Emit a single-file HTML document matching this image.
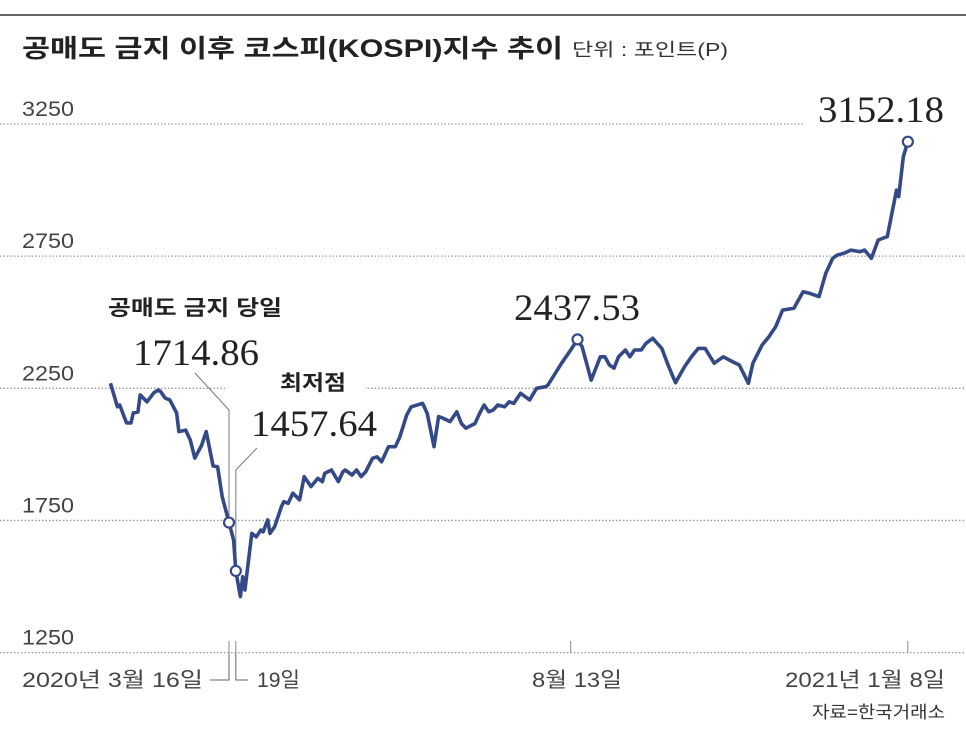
<!DOCTYPE html>
<html><head><meta charset="utf-8"><style>
html,body{margin:0;padding:0;background:#fff;}
svg{display:block;}
.ax{font-family:"Liberation Sans Narrow","Liberation Sans","Noto Sans CJK KR",sans-serif;fill:#444;font-size:21px;}
.num{font-family:"Liberation Serif",serif;fill:#222;font-size:37px;}
.bold{font-family:"Liberation Sans","Noto Sans CJK KR",sans-serif;font-weight:bold;fill:#222;}
</style></head><body>
<svg id="chart" width="966" height="729" viewBox="0 0 966 729">
<line x1="0" y1="15" x2="966" y2="15" stroke="#666" stroke-width="2"/>
<text class="bold" x="22" y="57" font-size="25" textLength="541" lengthAdjust="spacingAndGlyphs">공매도 금지 이후 코스피(KOSPI)지수 추이</text>
<text x="572" y="56" font-size="18" fill="#333" font-family="Liberation Sans,Noto Sans CJK KR,sans-serif" textLength="156" lengthAdjust="spacingAndGlyphs">단위 : 포인트(P)</text>
<g id="grid"></g>
<g id="ylabels"></g>
<g id="ann"></g>
<path id="line" fill="none" stroke="#344a86" stroke-width="3.6" stroke-linejoin="round"/>
<g id="marks"></g>
<g id="xlabels"></g>
<text x="945" y="718" text-anchor="end" font-size="17" fill="#333" font-family="Liberation Sans Narrow,Liberation Sans,Noto Sans CJK KR,sans-serif" textLength="133" lengthAdjust="spacingAndGlyphs">자료=한국거래소</text>
</svg>
<script>
const yTicks = [3250, 2750, 2250, 1750, 1250];
const days = [-52,-49,-48,-45,-43,-42,-40,-39,-36,-33,-31,-30,-28,-26,-23,-22,-19,-17,-15,-12,-10,-7,-5,-3,0,2,3,5,6,7,10,12,14,15,17,18,20,23,24,26,28,31,33,36,39,41,42,45,48,50,51,54,56,58,60,63,65,67,70,73,75,78,80,85,87,90,92,94,97,100,102,104,108,110,112,114,116,118,121,123,125,128,132,135,139,140,146,150,153,155,159,163,165,167,169,171,174,176,178,181,183,186,188,190,193,196,200,203,206,209,213,217,221,224,228,230,234,237,240,243,248,252,255,259,262,265,267,270,273,277,279,282,285,289,293,294,296,298];
const values = [2269,2180,2187,2119,2119,2157,2160,2225,2199,2233,2244,2237,2213,2206,2157,2086,2092,2054,1986,2035,2086,1956,1953,1840,1742,1676,1559,1462,1537,1487,1701,1688,1714,1707,1752,1701,1726,1802,1821,1815,1853,1828,1916,1878,1909,1897,1928,1941,1897,1934,1941,1922,1941,1916,1934,1985,1991,1972,2029,2029,2067,2149,2180,2193,2155,2029,2143,2137,2124,2161,2117,2099,2117,2155,2187,2161,2168,2187,2180,2199,2193,2231,2206,2250,2256,2262,2345,2395,2435,2407,2281,2369,2369,2338,2326,2369,2395,2369,2395,2395,2420,2439,2420,2401,2332,2271,2332,2369,2401,2401,2345,2369,2351,2338,2269,2345,2414,2445,2483,2546,2553,2615,2609,2597,2685,2742,2754,2761,2773,2767,2773,2742,2811,2824,3000,2975,3126,3183];
const markDays = [0, 3, 153, 298];
const markLabels = ["1714.86", "1457.64", "2437.53", "3152.18"];
const xTickDays = [0, 3, 150, 298];
const xTickLabels = ["2020년 3월 16일", "19일", "8월 13일", "2021년 1월 8일"];

const NS = "http://www.w3.org/2000/svg";
const y = v => 124 + (3250 - v) * 0.2643;
const x = d => 229 + d * 2.278;
function mk(tag, attrs, parent, text){
  const e = document.createElementNS(NS, tag);
  for (const k in attrs) e.setAttribute(k, attrs[k]);
  if (text !== undefined) e.textContent = text;
  parent.appendChild(e);
  return e;
}
const grid = document.getElementById('grid');
const yl = document.getElementById('ylabels');
yTicks.forEach((t,i) => {
  const gl = mk('line', {x1:0, x2:966, y1:y(t), y2:y(t), stroke:'#999', 'stroke-width':1.3, 'stroke-dasharray':'1.5 2'}, grid);
  
  
  const tl = mk('text', {x:22, y:y(t) - 8, class:'ax', textLength:52, lengthAdjust:'spacingAndGlyphs'}, yl, String(t));
  
  
});
// white masks behind labels
[[805,110,161,20],[225,375,140,20]].forEach(r => {
  const m = mk('rect', {x:r[0], y:r[1], width:r[2], height:r[3], fill:'#fff'}, grid);
  
  
});
// x ticks
const xl = document.getElementById('xlabels');
xTickDays.forEach((d,i) => {
  const tk = mk('line', {x1:x(d), x2:x(d), y1:641, y2:653, stroke:'#888', 'stroke-width':1}, xl);
  
  
});
const xPos = [[22,181,'start'],[257,43,'start'],[532,90,'start'],[785,160,'start']];
xTickLabels.forEach((s,i) => {
  const t = mk('text', {x:xPos[i][0], y:687, class:'ax', 'font-size':23, textLength:xPos[i][1], lengthAdjust:'spacingAndGlyphs'}, xl, s);
  
  
});
// brackets for 16 / 19
const b1 = mk('path', {d:`M210 680 H${x(0)} V653`, fill:'none', stroke:'#666', 'stroke-width':1}, xl);


const b2 = mk('path', {d:`M${x(3)} 653 V680 H248`, fill:'none', stroke:'#666', 'stroke-width':1}, xl);


// line
let d = '';
days.forEach((dd,i) => { d += (i ? 'L' : 'M') + x(dd).toFixed(1) + ' ' + y(values[i]).toFixed(1); });
document.getElementById('line').setAttribute('d', d);
// annotations
const ann = document.getElementById('ann');
const l1 = mk('path', {d:`M195 373 L${x(0)} 410 V${y(values[days.indexOf(0)])}`, fill:'none', stroke:'#777', 'stroke-width':1}, ann);


const l2 = mk('path', {d:`M257 448 L${x(3)} 470 V${y(values[days.indexOf(3)])}`, fill:'none', stroke:'#777', 'stroke-width':1}, ann);


const h1 = mk('text', {x:108, y:315, class:'bold', 'font-size':21, textLength:174, lengthAdjust:'spacingAndGlyphs'}, ann, '공매도 금지 당일');


const h2 = mk('text', {x:280, y:390, class:'bold', 'font-size':21, textLength:66, lengthAdjust:'spacingAndGlyphs'}, ann, '최저점');


const labPos = [[133,365],[251,436],[514,320],[818,122]];
const marks = document.getElementById('marks');
markDays.forEach((md,i) => {
  const v = values[days.indexOf(md)];
  const c = mk('circle', {cx:x(md), cy:y(v), r:5, fill:'#fff', stroke:'#344a86', 'stroke-width':2.2}, marks);
  
  
  const t = mk('text', {x:labPos[i][0], y:labPos[i][1], class:'num', textLength:126, lengthAdjust:'spacingAndGlyphs'}, ann, markLabels[i]);
  
  
});
</script>
</body></html>
